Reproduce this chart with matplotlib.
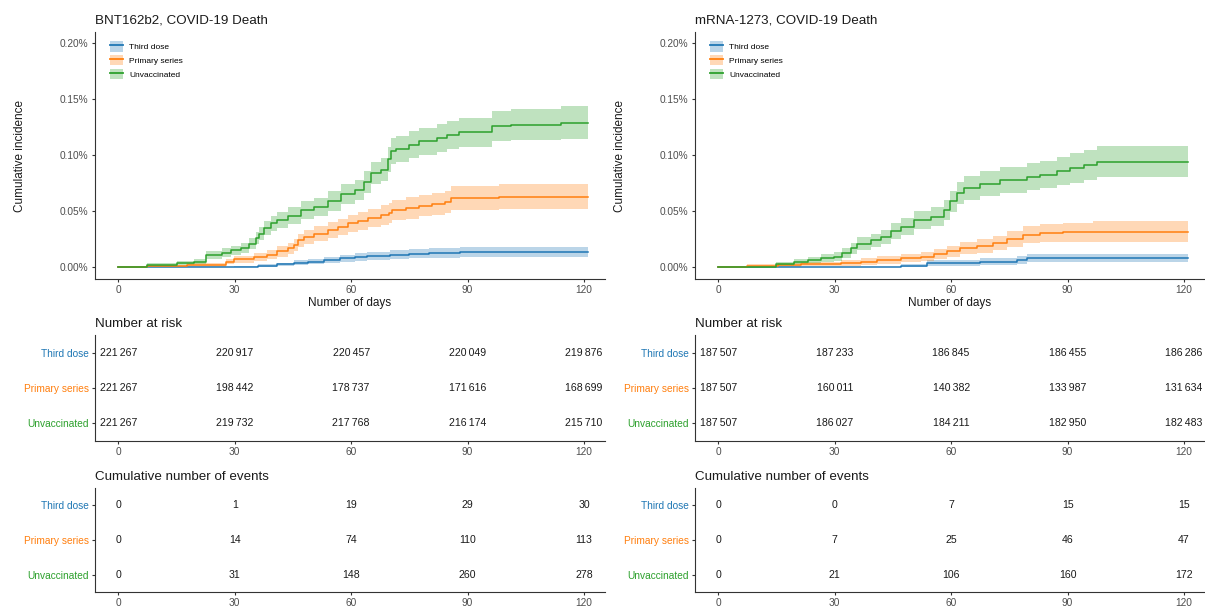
import matplotlib
matplotlib.use("Agg")
import matplotlib.pyplot as plt
from matplotlib.patches import Patch
from matplotlib.lines import Line2D

plt.rcParams['font.family'] = ['Liberation Sans', 'DejaVu Sans']

groups = ["Third dose", "Primary series", "Unvaccinated"]
colors = ["#1f77b4", "#ff7f0e", "#2ca02c"]
time_points = [0, 30, 60, 90, 120]
end_day = 121

# BNT162b2 curves (cumulative incidence in %)
bnt_third_days = [0, 29.8, 35.9, 41, 45.3, 49, 53, 57, 61, 64, 70, 75, 80, 84, 88, 101]
bnt_third_vals = [0, 0.0005, 0.0015, 0.0025, 0.004, 0.005, 0.0065, 0.008, 0.0088, 0.010, 0.011, 0.012, 0.0125, 0.013, 0.0135, 0.0136]
bnt_third_hw = [0, 0.0006, 0.001, 0.0015, 0.002, 0.0025, 0.003, 0.0033, 0.0035, 0.0038, 0.004, 0.0042, 0.0043, 0.0045, 0.0046, 0.0047]

bnt_prim_days = [0, 7.4, 17.8, 27.7, 29.8, 35, 38.4, 41, 43.6, 45.3, 46.2, 47.9, 50.5, 54, 56.6, 59.1, 61.7, 64.3, 67.8, 69.7, 70.5, 74, 77.4, 80.9, 84.3, 85.6, 98]
bnt_prim_vals = [0, 0.001, 0.002, 0.005, 0.007, 0.009, 0.011, 0.014, 0.017, 0.020, 0.024, 0.027, 0.030, 0.033, 0.036, 0.039, 0.0415, 0.0435, 0.0465, 0.0484, 0.0513, 0.0528, 0.0549, 0.0564, 0.0579, 0.0618, 0.0627]
bnt_prim_hw = [0, 0.001, 0.0015, 0.0025, 0.003, 0.0035, 0.004, 0.0045, 0.005, 0.0055, 0.006, 0.006, 0.0065, 0.007, 0.007, 0.0075, 0.008, 0.008, 0.0085, 0.009, 0.009, 0.0095, 0.0095, 0.010, 0.010, 0.0105, 0.011]

bnt_unvax_days = [0, 7.4, 15.2, 19.5, 22.5, 26.8, 29, 31.5, 33.7, 35.4, 36.3, 37.6, 39.3, 41, 43.6, 47, 50.5, 54, 57.4, 60.9, 63.4, 65.2, 67.8, 69.5, 70.3, 71.5, 74.9, 77.4, 82, 84.6, 87.7, 96.2, 101.3, 114]
bnt_unvax_vals = [0, 0.002, 0.0036, 0.005, 0.011, 0.013, 0.015, 0.017, 0.021, 0.026, 0.030, 0.035, 0.039, 0.042, 0.046, 0.051, 0.054, 0.059, 0.065, 0.069, 0.076, 0.084, 0.087, 0.096, 0.1036, 0.105, 0.109, 0.112, 0.1153, 0.118, 0.120, 0.1257, 0.127, 0.1287]
bnt_unvax_hw = [0, 0.0015, 0.002, 0.0025, 0.0035, 0.0038, 0.004, 0.0045, 0.005, 0.0055, 0.006, 0.0065, 0.007, 0.007, 0.0075, 0.008, 0.008, 0.0085, 0.009, 0.009, 0.0095, 0.010, 0.010, 0.011, 0.0115, 0.0115, 0.012, 0.012, 0.0125, 0.0125, 0.013, 0.0135, 0.0135, 0.0145]

# mRNA-1273 curves
mrna_third_days = [0, 47, 53.8, 67.5, 77, 79.5, 83.8]
mrna_third_vals = [0, 0.0015, 0.004, 0.005, 0.0065, 0.008, 0.0082]
mrna_third_hw = [0, 0.0012, 0.0025, 0.003, 0.0033, 0.0037, 0.0039]

mrna_prim_days = [0, 7.5, 15.3, 21.3, 31.5, 36.7, 41, 47, 52.1, 55.5, 59, 62.4, 66.7, 70.9, 74.3, 78.5, 82.8, 88.8, 96.5]
mrna_prim_vals = [0, 0.0015, 0.002, 0.0027, 0.0036, 0.005, 0.0065, 0.008, 0.0095, 0.012, 0.014, 0.017, 0.019, 0.0214, 0.025, 0.0288, 0.0304, 0.0313, 0.0318]
mrna_prim_hw = [0, 0.0015, 0.0017, 0.002, 0.0025, 0.003, 0.0033, 0.0037, 0.004, 0.0045, 0.005, 0.0055, 0.006, 0.0065, 0.007, 0.0075, 0.008, 0.0085, 0.009]

mrna_unvax_days = [0, 14.8, 19.5, 23, 26.4, 29.8, 32, 34.1, 35.8, 39.3, 41.8, 44.4, 47, 50.4, 54.7, 58.1, 59.8, 61.5, 63.2, 67.5, 72.7, 79.5, 83, 87.2, 90.7, 94.1, 97.5]
mrna_unvax_vals = [0, 0.003, 0.005, 0.0065, 0.008, 0.0095, 0.0125, 0.017, 0.021, 0.024, 0.027, 0.032, 0.036, 0.042, 0.045, 0.051, 0.0586, 0.066, 0.0705, 0.0744, 0.078, 0.0804, 0.0824, 0.0854, 0.0884, 0.0913, 0.094]
mrna_unvax_hw = [0, 0.002, 0.0025, 0.003, 0.0035, 0.004, 0.0045, 0.005, 0.0055, 0.006, 0.0065, 0.007, 0.0075, 0.008, 0.0085, 0.009, 0.0095, 0.010, 0.0105, 0.011, 0.0115, 0.012, 0.012, 0.0125, 0.013, 0.0135, 0.014]

# tables
bnt_risk = [[221267, 220917, 220457, 220049, 219876],
            [221267, 198442, 178737, 171616, 168699],
            [221267, 219732, 217768, 216174, 215710]]
bnt_events = [[0, 1, 19, 29, 30],
              [0, 14, 74, 110, 113],
              [0, 31, 148, 260, 278]]
mrna_risk = [[187507, 187233, 186845, 186455, 186286],
             [187507, 160011, 140382, 133987, 131634],
             [187507, 186027, 184211, 182950, 182483]]
mrna_events = [[0, 0, 7, 15, 15],
               [0, 7, 25, 46, 47],
               [0, 21, 106, 160, 172]]

panels = [
    ("BNT162b2, COVID-19 Death",
     [(bnt_third_days, bnt_third_vals, bnt_third_hw),
      (bnt_prim_days, bnt_prim_vals, bnt_prim_hw),
      (bnt_unvax_days, bnt_unvax_vals, bnt_unvax_hw)],
     bnt_risk, bnt_events),
    ("mRNA-1273, COVID-19 Death",
     [(mrna_third_days, mrna_third_vals, mrna_third_hw),
      (mrna_prim_days, mrna_prim_vals, mrna_prim_hw),
      (mrna_unvax_days, mrna_unvax_vals, mrna_unvax_hw)],
     mrna_risk, mrna_events),
]

W, H = 1205, 606
fig = plt.figure(figsize=(W / 100, H / 100), dpi=100)

axis_col = "#333333"
text_col = "#4d4d4d"
xlim = (-6, 125.4)


def px_axes(x0, y0, x1, y1):
    return fig.add_axes([x0 / W, 1 - y1 / H, (x1 - x0) / W, (y1 - y0) / H])


def style(ax):
    for s in ["top", "right"]:
        ax.spines[s].set_visible(False)
    for s in ["left", "bottom"]:
        ax.spines[s].set_color(axis_col)
        ax.spines[s].set_linewidth(0.8)
    ax.tick_params(length=2.5, width=0.8, color=axis_col, labelsize=7.3,
                   labelcolor=text_col, pad=2)
    ax.set_xlim(*xlim)
    ax.set_xticks(time_points)


def fmt_num(n):
    return f"{n:,}".replace(",", "\u2009")


for i, (title, curves, risk, events) in enumerate(panels):
    x0 = 95 if i == 0 else 695
    x1 = x0 + 510

    ax = px_axes(x0, 32, x1, 279)
    style(ax)
    handles = []
    for (days, vals, hw), col in zip(curves, colors):
        d = days + [end_day]
        v = vals + [vals[-1]]
        h = hw + [hw[-1]]
        lo = [max(a - b, 0) for a, b in zip(v, h)]
        hi = [a + b for a, b in zip(v, h)]
        ax.fill_between(d, lo, hi, step="post", color=col, alpha=0.3, lw=0)
        ax.step(d, v, where="post", color=col, lw=1.1)
        handles.append((Patch(facecolor=col, alpha=0.3, lw=0),
                        Line2D([], [], color=col, lw=1.3)))
    ax.set_ylim(-0.0105, 0.2095)
    ax.set_yticks([0, 0.05, 0.10, 0.15, 0.20])
    ax.set_yticklabels([f"{t:.2f}%" for t in [0, 0.05, 0.10, 0.15, 0.20]])
    ax.set_title(title, loc="left", fontsize=9.6, color="#1a1a1a", pad=6)
    ax.set_ylabel("Cumulative incidence", fontsize=8.5, color="#1a1a1a")
    ax.yaxis.set_label_coords(-0.135, 0.5)
    ax.set_xlabel("Number of days", fontsize=8.5, color="#1a1a1a", labelpad=1)
    ax.legend(handles, groups, loc="upper left", bbox_to_anchor=(0.029, 0.962),
              frameon=False, fontsize=6, borderpad=0, borderaxespad=0,
              handlelength=1.6, handleheight=1.5, labelspacing=0.45,
              handletextpad=0.7)

    for (y0, y1, ttl, tab, use_sep) in [(335, 441, "Number at risk", risk, True),
                                         (488, 592, "Cumulative number of events", events, False)]:
        tax = px_axes(x0, y0, x1, y1)
        style(tax)
        tax.set_ylim(3.5, 0.5)
        tax.set_yticks([1, 2, 3])
        tax.set_yticklabels(groups)
        for lab, col in zip(tax.get_yticklabels(), colors):
            lab.set_color(col)
        for r, row in enumerate(tab):
            for t, n in zip(time_points, row):
                tax.text(t, r + 1, fmt_num(n) if use_sep else str(n), ha="center",
                         va="center", fontsize=7.6, color="#1a1a1a")
        tax.set_title(ttl, loc="left", fontsize=9.6, color="#1a1a1a", pad=6)

fig.savefig("out.png", dpi=100)
